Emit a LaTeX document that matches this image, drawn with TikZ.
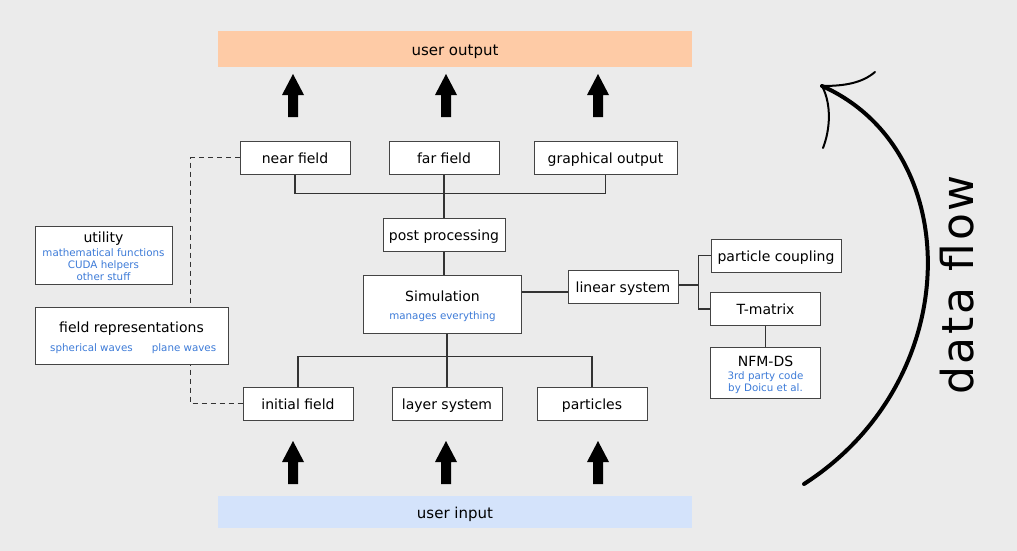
\documentclass[tikz,border=0pt]{standalone}
\usepackage{fontspec}
\setmainfont{DejaVu Sans}
\definecolor{bggray}{HTML}{EBEBEB}
\definecolor{outorange}{HTML}{FECBA6}
\definecolor{inblue}{HTML}{D4E3FB}
\definecolor{subblue}{HTML}{3D7BD8}
\definecolor{lnk}{HTML}{333333}
\definecolor{boxline}{HTML}{444444}
\pgfdeclarelayer{back}\pgfdeclarelayer{wires}\pgfsetlayers{back,wires,main}
\begin{document}
\begin{tikzpicture}[x=1pt,y=-1pt,
 box/.style={draw=boxline, line width=1pt, fill=white, inner sep=0pt,
   font=\fontsize{14}{17}\selectfont, text height=12pt, text depth=0.5pt},
 sub/.style={text=subblue, font=\fontsize{10.3}{12}\selectfont, inner sep=0pt, anchor=base},
 ttl/.style={font=\fontsize{14}{17}\selectfont, inner sep=0pt, anchor=base},
 wire/.style={draw=lnk, line width=1.4pt},
 bar/.style={inner sep=0pt, minimum width=474pt, font=\fontsize{15}{18}\selectfont,
   text height=13pt, text depth=0.5pt},
 uparr/.pic={\fill[black] (-5,0) -- (-5,-22) -- (-11,-22) -- (0,-43) -- (11,-22) -- (5,-22) -- (5,0) -- cycle;}
]
\useasboundingbox (0,0) rectangle (1017,551);
\begin{pgfonlayer}{back}
\fill[bggray] (0,0) rectangle (1017,551);
\end{pgfonlayer}

% bars
\node[bar, fill=outorange, minimum height=36pt] (uout) at (455,49) {user output};
\node[bar, fill=inblue, minimum height=32pt] (uin) at (455,512) {user input};

% block arrows
\pic at (293,117) {uparr};
\pic at (446,117) {uparr};
\pic at (598,117) {uparr};
\pic at (293,484) {uparr};
\pic at (446,484) {uparr};
\pic at (598,484) {uparr};

% output boxes
\node[box, minimum width=110pt, minimum height=33pt] (nearf) at (295,157.5) {near field};
\node[box, minimum width=110pt, minimum height=33pt] (farf) at (444,157.5) {far field};
\node[box, minimum width=143pt, minimum height=33pt] (graph) at (605.5,157.5) {graphical output};
\node[box, minimum width=122pt, minimum height=33pt] (post) at (444,234.5) {post processing};

% simulation
\node[box, minimum width=158pt, minimum height=58pt] (sim) at (442.5,304) {};
\node[ttl] (simt) at (442.5,301.7) {Simulation};
\node[sub] (sims) at (442.5,319.3) {manages everything};

% linear system branch
\node[box, minimum width=110pt, minimum height=33pt] (lin) at (623,287) {linear system};
\node[box, minimum width=130pt, minimum height=33pt] (pc) at (776,255.5) {particle coupling};
\node[box, minimum width=110pt, minimum height=33pt] (tm) at (765.5,309) {T-matrix};
\node[box, minimum width=110pt, minimum height=51pt] (nfm) at (765.5,372.5) {};
\node[ttl] (nfmt) at (765.5,366) {NFM-DS};
\node[sub] (nfma) at (765.5,379) {3rd party code};
\node[sub] (nfmb) at (765.5,391.7) {by Doicu et al.};

% input boxes
\node[box, minimum width=110pt, minimum height=33pt] (init) at (298,403.5) {initial field};
\node[box, minimum width=110pt, minimum height=33pt] (layer) at (447,403.5) {layer system};
\node[box, minimum width=110pt, minimum height=33pt] (parts) at (592,403.5) {particles};

% utility
\node[box, minimum width=137pt, minimum height=58pt] (util) at (103.5,255) {};
\node[ttl] (utilt) at (103.5,242.5) {utility};
\node[sub] (utila) at (103.5,256.7) {mathematical functions};
\node[sub] (utilb) at (103.5,268.7) {CUDA helpers};
\node[sub] (utilc) at (103.5,280.7) {other stuff};

% field representations
\node[box, minimum width=193pt, minimum height=57pt] (frep) at (131.5,335.5) {};
\node[ttl] (frept) at (131.5,332.7) {field representations};
\node[sub] (frepa) at (91.5,351) {spherical waves};
\node[sub] (frepb) at (184,351) {plane waves};

% connectors
\begin{pgfonlayer}{wires}
\draw[wire] (nearf.south) -- ++(0,19) -| (graph.south);
\draw[wire] (farf.south) -- (post.north);
\draw[wire] (post.south) -- (post.south |- sim.north);
\draw[wire] (layer.north) -- ++(0,-30) coordinate (bj);
\draw[wire] (bj) -- (bj |- sim.south);
\draw[wire] (init.north) |- (bj) -| (parts.north);
\draw[wire] ([yshift=-5pt]lin.west) -- ([yshift=-5pt]lin.west -| sim.east);
\draw[wire] ([yshift=2pt]lin.east) -- ++(20,0) coordinate (lj);
\draw[wire] (pc.west) -| (lj) |- (tm.west);
\draw[wire] (tm.south) -- (nfm.north);
\draw[draw=lnk, line width=1pt, dash pattern=on 5pt off 4pt] (nearf.west) -- ++(-49,0) |- (init.west);
\end{pgfonlayer}

% data flow arrow
\coordinate (dfs) at (804,484);
\coordinate (dft) at (822,86);
\draw[line width=4pt, line cap=round] (dfs) .. controls (966,380) and (966,150) .. (dft);
\draw[line width=2pt, line cap=round] (dft) .. controls (845,86) and (862,83) .. (875,72);
\draw[line width=2pt, line cap=round] (dft) .. controls (832,105) and (830,130) .. (823,148);
\node[rotate=90, anchor=base, inner sep=0pt,
  font=\fontsize{44}{50}\selectfont\addfontfeature{LetterSpace=6}] (dflow) at (973,285) {data flow};
\end{tikzpicture}
\end{document}
